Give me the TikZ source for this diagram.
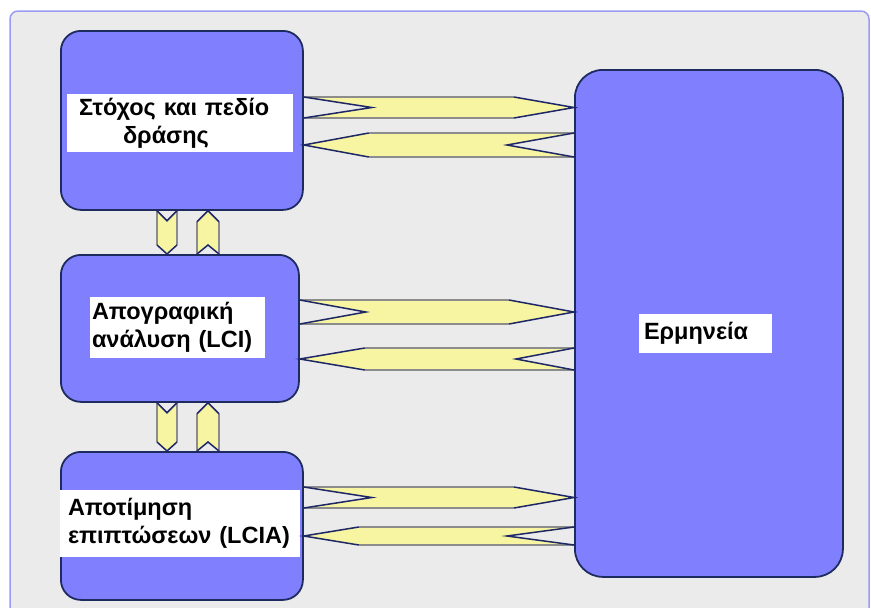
\documentclass[tikz,border=0pt]{standalone}
\usepackage{fontspec}
\setmainfont{Liberation Sans}
\usetikzlibrary{calc}
\definecolor{boxfill}{HTML}{8080FF}
\definecolor{boxline}{HTML}{1E2B5E}
\definecolor{panelfill}{HTML}{EBEBEB}
\definecolor{panelline}{HTML}{9C9CF2}
\definecolor{flowfill}{HTML}{F7F4A2}
\definecolor{flowgray}{HTML}{8C8C8C}
\definecolor{flownavy}{HTML}{1E2766}
\tikzset{
  panel/.style={fill=panelfill, draw=panelline, line width=1.5pt, rounded corners=8pt},
  stage/.style={rectangle, fill=boxfill, draw=boxline, line width=1.8pt, rounded corners=20pt, anchor=north west, inner sep=0pt},
  labelband/.style={rectangle, fill=white, draw=none, inner sep=0pt, align=left,
     font=\fontsize{23.5}{28}\selectfont\bfseries, text=black},
  flowbody/.style={fill=flowfill, draw=none},
  flowedge/.style={draw=flowgray, line width=1.2pt},
  flowslant/.style={draw=flownavy, line width=1.5pt},
}
% right-pointing notched arrow: #1 src, #2 dst, #3 top, #4 mid, #5 bottom, #6 notch depth, #7 tip length
\newcommand\rflow[7]{%
  \coordinate (tl) at (#1.east |- 0,#3);
  \coordinate (bl) at (#1.east |- 0,#5);
  \coordinate (nt) at ($(#1.east |- 0,#4)+(#6,0)$);
  \coordinate (tp) at (#2.west |- 0,#4);
  \coordinate (tr) at ($(#2.west |- 0,#3)+(-#7,0)$);
  \coordinate (br) at ($(#2.west |- 0,#5)+(-#7,0)$);
  \path[flowbody] (tl)--(tr)--(tp)--(br)--(bl)--(nt)--cycle;
  \draw[flowedge] (tl)--(tr) (bl)--(br);
  \draw[flowslant] (tr)--(tp)--(br) (tl)--(nt)--(bl);
}
% left-pointing notched arrow: #1 left node (tip side), #2 right node (notch side), #3 top, #4 mid, #5 bottom, #6 tip length, #7 notch depth
\newcommand\lflow[7]{%
  \coordinate (tp) at (#1.east |- 0,#4);
  \coordinate (tl) at ($(#1.east |- 0,#3)+(#6,0)$);
  \coordinate (bl) at ($(#1.east |- 0,#5)+(#6,0)$);
  \coordinate (tr) at (#2.west |- 0,#3);
  \coordinate (br) at (#2.west |- 0,#5);
  \coordinate (nt) at ($(#2.west |- 0,#4)+(-#7,0)$);
  \path[flowbody] (tp)--(tl)--(tr)--(nt)--(br)--(bl)--cycle;
  \draw[flowedge] (tl)--(tr) (bl)--(br);
  \draw[flowslant] (tl)--(tp)--(bl) (tr)--(nt)--(br);
}
% downward arrow: #1 upper node, #2 lower node, #3 left x, #4 mid x, #5 right x, #6 notch, #7 tip
\newcommand\dflow[7]{%
  \coordinate (tl) at (#3,0 |- #1.south);
  \coordinate (tr) at (#5,0 |- #1.south);
  \coordinate (nt) at ($(#4,0 |- #1.south)+(0,#6)$);
  \coordinate (tp) at (#4,0 |- #2.north);
  \coordinate (ll) at ($(#3,0 |- #2.north)+(0,-#7)$);
  \coordinate (lr) at ($(#5,0 |- #2.north)+(0,-#7)$);
  \path[flowbody] (tl)--(nt)--(tr)--(lr)--(tp)--(ll)--cycle;
  \draw[flowedge] (tl)--(ll) (tr)--(lr);
  \draw[flowslant] (tl)--(nt)--(tr) (ll)--(tp)--(lr);
}
% upward arrow: #1 upper node (tip side), #2 lower node (notch side), #3 left x, #4 mid x, #5 right x, #6 tip, #7 notch
\newcommand\uflow[7]{%
  \coordinate (tp) at (#4,0 |- #1.south);
  \coordinate (ul) at ($(#3,0 |- #1.south)+(0,#6)$);
  \coordinate (ur) at ($(#5,0 |- #1.south)+(0,#6)$);
  \coordinate (bl) at (#3,0 |- #2.north);
  \coordinate (br) at (#5,0 |- #2.north);
  \coordinate (nt) at ($(#4,0 |- #2.north)+(0,-#7)$);
  \path[flowbody] (tp)--(ur)--(br)--(nt)--(bl)--(ul)--cycle;
  \draw[flowedge] (ul)--(bl) (ur)--(br);
  \draw[flowslant] (ul)--(tp)--(ur) (bl)--(nt)--(br);
}
\begin{document}
\begin{tikzpicture}[x=1pt,y=-1pt]
\useasboundingbox (0,0) rectangle (871,608);
\clip (0,0) rectangle (871,608);
\fill[white] (0,0) rectangle (871,608);
\draw[panel] (10,11) rectangle (869,640);

% stages
\node[stage, minimum width=242pt, minimum height=179pt] (b1) at (60,30) {};
\node[stage, minimum width=238pt, minimum height=147pt] (b2) at (60,254) {};
\node[stage, minimum width=242pt, minimum height=148pt] (b3) at (60,451) {};
\node[stage, minimum width=268pt, minimum height=507pt, rounded corners=28pt] (b4) at (574,69) {};

% labels
\node[labelband, minimum width=226pt, minimum height=58pt, text width=202pt] (l1) at (180,123)
  {Στόχος και πεδίο\\\hspace*{44pt}δράσης};
\node[labelband, minimum width=175pt, minimum height=61pt, text width=171pt] (l2) at (177.5,327.5)
  {Απογραφική\\ανάλυση (LCI)};
\node[labelband, minimum width=240pt, minimum height=67pt, text width=224pt] (l3) at (180,523.5)
  {Αποτίμηση\\επιπτώσεων (LCIA)};
\node[labelband, minimum width=133pt, minimum height=39pt, text width=123pt] (l4) at (705.5,333.5)
  {Ερμηνεία};

% horizontal flows
\rflow{b1}{b4}{97}{107.5}{118}{68}{60}
\lflow{b1}{b4}{133}{145}{157}{65}{67}
\rflow{b2}{b4}{300}{312}{324}{66}{65}
\lflow{b2}{b4}{348}{359}{370}{65}{58}
\rflow{b3}{b4}{487}{497.5}{508}{68}{60}
\lflow{b3}{b4}{527}{536}{545}{55}{67}

% vertical flows
\dflow{b1}{b2}{157}{167}{177}{10}{9}
\uflow{b1}{b2}{197}{208}{219}{11}{9}
\dflow{b2}{b3}{157}{167}{177}{10}{9}
\uflow{b2}{b3}{197}{208}{219}{11}{9}
\end{tikzpicture}
\end{document}
